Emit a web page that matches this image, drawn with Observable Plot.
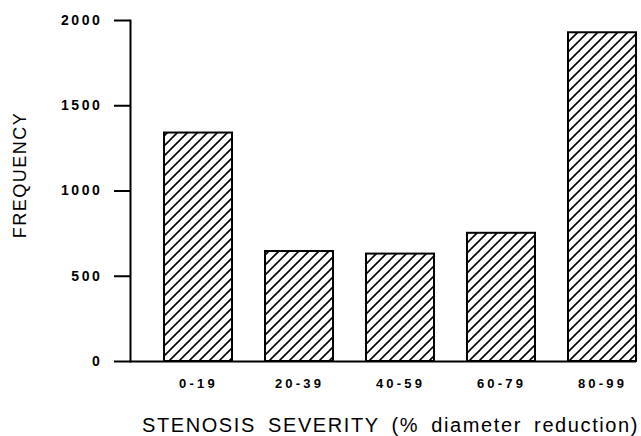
<!DOCTYPE html>
<html>
<head>
<meta charset="utf-8">
<script src="https://cdn.jsdelivr.net/npm/d3@7"></script>
<script src="https://cdn.jsdelivr.net/npm/@observablehq/plot@0.6"></script>
<style>
  html, body { margin: 0; padding: 0; background: #fff; }
  #chart svg { display: block; }
  g[aria-label="y-axis tick label"] text { letter-spacing: 2.6px; }
  g[aria-label="x-axis tick label"] text { letter-spacing: 3.2px; }
  .xtitle text { letter-spacing: 1.6px; word-spacing: 5px; }
  .ytitle text { letter-spacing: 1.5px; }
</style>
</head>
<body>
<div id="chart"></div>
<script>
const categories = ["0-19", "20-39", "40-59", "60-79", "80-99"];
const frequencies = [1340, 645, 630, 752, 1928];
const yTicks = [0, 500, 1000, 1500, 2000];
const xTitle = "STENOSIS SEVERITY (% diameter reduction)";
const yTitle = "FREQUENCY";

const data = categories.map((c, i) => ({category: c, value: frequencies[i]}));

const chart = Plot.plot({
  width: 641,
  height: 436,
  marginLeft: 130,
  marginRight: 5,
  marginTop: 20,
  marginBottom: 75,
  style: {fontFamily: "'Liberation Sans', Arial, sans-serif", background: "#fff", color: "#000"},
  x: {type: "band", domain: categories, paddingInner: 0.33, paddingOuter: 0, insetLeft: 34, label: null},
  y: {domain: [0, 2000], label: null},
  marks: [
    Plot.barY(data, {x: "category", y: "value", fill: "url(#hatch)", stroke: "#000", strokeWidth: 2}),
    Plot.ruleY([0], {stroke: "#000", strokeWidth: 2}),
    Plot.frame({anchor: "left", stroke: "#000", strokeWidth: 2}),
    Plot.axisY({ticks: yTicks, tickSize: 16, tickPadding: 12, strokeWidth: 2, fontSize: 14, fontWeight: "bold", label: null, tickFormat: d => String(d)}),
    Plot.axisX({tickSize: 0, tickPadding: 17, fontSize: 13, fontWeight: "bold", label: null}),
    Plot.text([yTitle], {text: d => d, frameAnchor: "left", textAnchor: "middle", dx: -110, dy: -16, rotate: -90, fontSize: 18, className: "ytitle", fill: "#000"}),
    Plot.text([xTitle], {text: d => d, frameAnchor: "bottom", textAnchor: "middle", dx: 7, dy: 64, lineAnchor: "middle", fontSize: 20, className: "xtitle", fill: "#000"})
  ]
});

const defs = d3.select(chart).insert("defs", ":first-child");
const pat = defs.append("pattern")
  .attr("id", "hatch")
  .attr("patternUnits", "userSpaceOnUse")
  .attr("width", 10)
  .attr("height", 10);
pat.append("rect").attr("width", 10).attr("height", 10).attr("fill", "#fff");
pat.append("path")
  .attr("d", "M-2,2 L2,-2 M0,10 L10,0 M8,12 L12,8")
  .attr("stroke", "#000")
  .attr("stroke-width", 1.6);

document.getElementById("chart").appendChild(chart);
</script>
</body>
</html>
